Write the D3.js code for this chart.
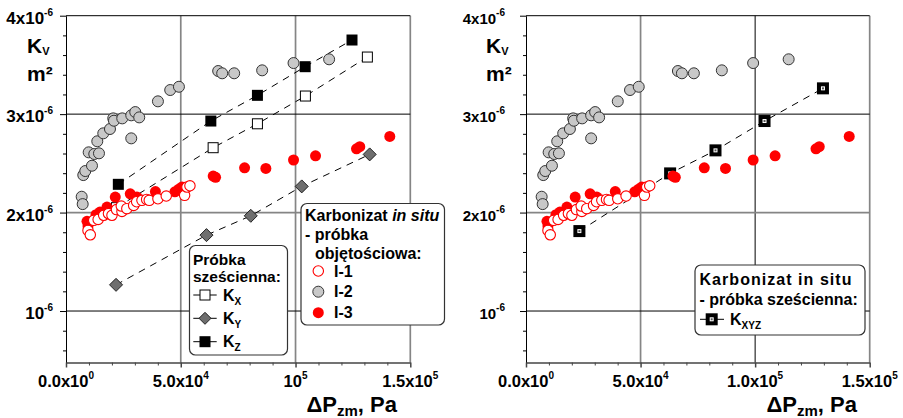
<!DOCTYPE html>
<html><head><meta charset="utf-8">
<script src="https://cdn.jsdelivr.net/npm/d3@7"></script>
<style>
body{margin:0;background:#fff}
svg{display:block}
text{font-family:Arial,"Liberation Sans",sans-serif;font-weight:bold;fill:#000}
</style>
</head><body>
<svg id="c" width="903" height="418"></svg>
<script>
// ---------- data ----------
const xTickValues = [0, 5e4, 1e5, 1.5e5];
const xTickLabelsLeft  = [["0.0x10","0"],["5.0x10","4"],["10","5"],["1.5x10","5"]];
const xTickLabelsRight = [["0.0x10","0"],["5.0x10","4"],["1.0x10","5"],["1.5x10","5"]];
const yTickValues = [1e-6, 2e-6, 3e-6, 4e-6];
const yTickLabels = [["10","-6"],["2x10","-6"],["3x10","-6"],["4x10","-6"]];

// Karbonizat in situ - probka objetosciowa  [dP (Pa), Kv (m2)]
const i1 = [[9580,1.819e-6],[10580,1.774e-6],[12060,1.921e-6],[14000,1.93e-6],[16410,1.972e-6],[18500,1.99e-6],
  [20030,1.972e-6],[22000,2.03e-6],[24380,2.012e-6],[24080,2.066e-6],[26500,2.04e-6],[29470,2.073e-6],[30780,2.110e-6],
  [33090,2.124e-6],[35130,2.134e-6],[36270,2.124e-6],[40050,2.140e-6],[43670,2.168e-6],[51680,2.175e-6],
  [52680,2.259e-6],[54000,2.272e-6]];
const i2 = [[6830,2.161e-6],[7270,2.086e-6],[7530,2.381e-6],[8400,2.422e-6],[9880,2.612e-6],[11320,2.476e-6],
  [12320,2.595e-6],[14370,2.602e-6],[13630,2.724e-6],[16240,2.805e-6],[19160,2.849e-6],[20590,2.957e-6],
  [20900,2.933e-6],[24510,2.957e-6],[28430,2.988e-6],[30170,3.021e-6],[31910,2.967e-6],[28430,2.754e-6],
  [40050,3.130e-6],[45400,3.245e-6],[49200,3.278e-6],[66300,3.438e-6],[68050,3.415e-6],[73270,3.415e-6],
  [85460,3.445e-6],[99130,3.519e-6],[114630,3.557e-6]];
const i3 = [[9140,1.911e-6],[9580,1.863e-6],[13060,1.978e-6],[14800,2.005e-6],[17850,2.056e-6],[21460,2.157e-6],
  [27990,2.191e-6],[30910,2.158e-6],[38960,2.213e-6],[47450,2.211e-6],[49060,2.236e-6],[50500,2.259e-6],
  [64130,2.371e-6],[65170,2.358e-6],[77800,2.455e-6],[87070,2.449e-6],[99130,2.534e-6],[108710,2.577e-6],
  [126560,2.648e-6],[127990,2.669e-6],[141060,2.774e-6]];
// Probka szescienna
const kx = [[22000,2.05e-6],[64100,2.659e-6],[83400,2.902e-6],[104300,3.184e-6],[131300,3.580e-6]];
const ky = [[21800,1.266e-6],[61200,1.771e-6],[80500,1.967e-6],[102700,2.266e-6],[132300,2.591e-6]];
const kz = [[22800,2.287e-6],[63100,2.930e-6],[83400,3.191e-6],[104200,3.482e-6],[124600,3.753e-6]];
const kxyz = [[23300,1.812e-6],[62900,2.398e-6],[82700,2.632e-6],[104100,2.930e-6],[129600,3.262e-6]];

// ---------- drawing ----------
const svg = d3.select("#c");

const panels = [
  {x0:66, x1:410.3, xLabels:xTickLabelsLeft, yLabelGap:13, yFont:17,
   vGrid:{5e4:"g",1e5:"g",1.5e5:"g"}, hGrid:{1e-6:"b",2e-6:"g",3e-6:"b",4e-6:"b"},
   kvX:27, m2X:27, titleX:306.5, cubes:true},
  {x0:526, x1:869.7, xLabels:xTickLabelsRight, yLabelGap:21, yFont:15,
   vGrid:{5e4:"g",1e5:"b",1.5e5:"g"}, hGrid:{1e-6:"b",2e-6:"g",3e-6:"b",4e-6:"b"},
   kvX:486, m2X:486, titleX:766.5, cubes:false}
];

function supText(g, x, y, base, sup, size, anchor, supSize, supDy){
  const t = g.append("text").attr("x", x).attr("y", y).attr("font-size", size)
    .attr("text-anchor", anchor || "start");
  t.append("tspan").text(base);
  t.append("tspan").attr("font-size", supSize || size*0.65).attr("dy", supDy || -size*0.45).text(sup);
  return t;
}
function square(g, x, y, s, fill, stroke, sw){
  g.append("rect").attr("x", x - s/2).attr("y", y - s/2).attr("width", s).attr("height", s)
    .attr("fill", fill).attr("stroke", stroke).attr("stroke-width", sw);
}
function diamond(g, x, y, d){
  g.append("path").attr("d", `M${x},${y-d}L${x+d},${y}L${x},${y+d}L${x-d},${y}Z`)
    .attr("fill", "#6e6e6e").attr("stroke", "#222").attr("stroke-width", 1);
}
function xyzMarker(g, x, y){
  square(g, x, y, 8, "#fff", "#000", 4);
  g.append("rect").attr("x", x-1).attr("y", y-1).attr("width", 2).attr("height", 2).attr("fill", "#555");
}

panels.forEach(p => {
  const g = svg.append("g");
  const x = d3.scaleLinear().domain([0, 1.5e5]).range([p.x0, p.x1]);
  const y = d3.scaleLinear().domain([0.477e-6, 4e-6]).range([362.5, 15.7]);

  // gridlines
  xTickValues.slice(1).forEach(v => {
    const gray = p.vGrid[v] === "g";
    g.append("line").attr("x1", x(v)).attr("x2", x(v)).attr("y1", y(4e-6)).attr("y2", y(0.477e-6))
      .attr("stroke", gray ? "#858585" : "#000").attr("stroke-width", gray ? 1.7 : 1);
  });
  yTickValues.forEach(v => {
    const gray = p.hGrid[v] === "g";
    g.append("line").attr("x1", p.x0).attr("x2", p.x1).attr("y1", y(v)).attr("y2", y(v))
      .attr("stroke", gray ? "#858585" : "#000").attr("stroke-width", gray ? 1.7 : 1);
  });

  // axes
  const minorY = d3.range(6, 40, 2).map(d => d * 1e-7).filter(v => yTickValues.every(t => Math.abs(t - v) > 1e-9));
  const minorX = d3.range(1, 15).map(d => d * 1e4).filter(v => xTickValues.every(t => Math.abs(t - v) > 1));
  g.append("g").attr("transform", `translate(${p.x0},0)`)
    .call(d3.axisLeft(y).tickValues(yTickValues).tickSize(6).tickFormat("").tickSizeOuter(0))
    .call(a => a.selectAll("line,path").attr("stroke", "#000"));
  g.append("g").attr("transform", `translate(${p.x0},0)`)
    .call(d3.axisLeft(y).tickValues(minorY).tickSize(3).tickFormat("").tickSizeOuter(0))
    .call(a => a.select("path").remove()).call(a => a.selectAll("line").attr("stroke", "#000"));
  g.append("g").attr("transform", `translate(0,362.5)`)
    .call(d3.axisBottom(x).tickValues(xTickValues).tickSize(5).tickFormat("").tickSizeOuter(0))
    .call(a => a.selectAll("line,path").attr("stroke", "#444").attr("stroke-width", 1.5));
  g.append("g").attr("transform", `translate(0,362.5)`)
    .call(d3.axisBottom(x).tickValues(minorX).tickSize(3).tickFormat("").tickSizeOuter(0))
    .call(a => a.select("path").remove()).call(a => a.selectAll("line").attr("stroke", "#444"));

  // tick labels
  yTickValues.forEach((v, i) => {
    supText(g, p.x0 - p.yLabelGap, y(v) + 8, yTickLabels[i][0], yTickLabels[i][1], p.yFont, "end", 10, -8);
  });
  xTickValues.forEach((v, i) => {
    supText(g, x(v), 386.5, p.xLabels[i][0], p.xLabels[i][1], 16.5, "middle", 10, -8);
  });

  // axis titles
  const kv = g.append("text").attr("x", p.kvX).attr("y", 53).attr("font-size", 21);
  kv.append("tspan").text("K");
  kv.append("tspan").attr("font-size", 11).attr("dy", 2).text("V");
  g.append("text").attr("x", p.m2X).attr("y", 81).attr("font-size", 21).text("m²");
  const xt = g.append("text").attr("x", p.titleX).attr("y", 411.5).attr("font-size", 22);
  xt.append("tspan").text("ΔP");
  xt.append("tspan").attr("font-size", 15).attr("dy", 4).text("zm");
  xt.append("tspan").attr("dy", -4).text(", Pa");

  const line = d3.line().x(d => x(d[0])).y(d => y(d[1]));
  const dashed = (data) => g.append("path").attr("d", line(data)).attr("fill", "none")
    .attr("stroke", "#000").attr("stroke-width", 1).attr("stroke-dasharray", "7,6");

  if (p.cubes) {
    dashed(kx); dashed(ky); dashed(kz);
    kx.forEach(d => square(g, x(d[0]), y(d[1]), 10, "#fff", "#000", 1));
    ky.forEach(d => diamond(g, x(d[0]), y(d[1]), 6.5));
    kz.forEach(d => square(g, x(d[0]), y(d[1]), 11, "#000", "#000", 0));
  } else {
    dashed(kxyz);
    kxyz.forEach(d => xyzMarker(g, x(d[0]), y(d[1])));
  }

  // volume samples
  i3.forEach(d => g.append("circle").attr("cx", x(d[0])).attr("cy", y(d[1])).attr("r", 5.5).attr("fill", "#ff0000"));
  i1.forEach(d => g.append("circle").attr("cx", x(d[0])).attr("cy", y(d[1])).attr("r", 5.2)
    .attr("fill", "#fff").attr("stroke", "#ff0000").attr("stroke-width", 1.1));
  i2.forEach(d => g.append("circle").attr("cx", x(d[0])).attr("cy", y(d[1])).attr("r", 5.5)
    .attr("fill", "#c8c8c8").attr("stroke", "#333").attr("stroke-width", 1));
});

// ---------- legends ----------
function box(x, y, w, h){
  svg.append("rect").attr("x", x).attr("y", y).attr("width", w).attr("height", h).attr("rx", 6)
    .attr("fill", "#fff").attr("stroke", "#333").attr("stroke-width", 1.2);
}
function ktext(x, y, sub){
  const t = svg.append("text").attr("x", x).attr("y", y).attr("font-size", 16);
  t.append("tspan").text("K");
  t.append("tspan").attr("font-size", 10).attr("dy", 4).text(sub);
}
// left legend 1
box(189.5, 245.5, 98, 109.5);
svg.append("text").attr("x", 193).attr("y", 264.5).attr("font-size", 15.5).text("Próbka");
svg.append("text").attr("x", 193).attr("y", 282).attr("font-size", 15.5).text("sześcienna:");
[[295, "X", "x"], [318.3, "Y", "y"], [341.7, "Z", "z"]].forEach(r => {
  svg.append("line").attr("x1", 193.3).attr("x2", 216.7).attr("y1", r[0]).attr("y2", r[0]).attr("stroke", "#000");
  if (r[2] === "x") square(svg, 205, r[0], 10, "#fff", "#000", 1);
  if (r[2] === "y") diamond(svg, 205, r[0], 6);
  if (r[2] === "z") square(svg, 205, r[0], 11, "#000", "#000", 0);
  ktext(223, r[0] + 5.5, r[1]);
});
// left legend 2
box(301, 203.5, 143.5, 121.5);
const kt = svg.append("text").attr("x", 305).attr("y", 220.5).attr("font-size", 16);
kt.append("tspan").text("Karbonizat ");
kt.append("tspan").attr("font-style", "italic").text("in situ");
svg.append("text").attr("x", 305).attr("y", 240).attr("font-size", 16).text("- próbka");
svg.append("text").attr("x", 315).attr("y", 258.5).attr("font-size", 16).text("objętościowa:");
svg.append("circle").attr("cx", 318.3).attr("cy", 271).attr("r", 5.2).attr("fill", "#fff").attr("stroke", "#ff0000").attr("stroke-width", 1.1);
svg.append("circle").attr("cx", 318.3).attr("cy", 291.7).attr("r", 5.5).attr("fill", "#c8c8c8").attr("stroke", "#333");
svg.append("circle").attr("cx", 318.3).attr("cy", 312.7).attr("r", 5.5).attr("fill", "#ff0000");
[["I-1", 276.5], ["I-2", 297], ["I-3", 318]].forEach(r =>
  svg.append("text").attr("x", 334).attr("y", r[1]).attr("font-size", 16).text(r[0]));
// right legend
box(695, 265, 170, 70);
svg.append("text").attr("x", 699.5).attr("y", 285).attr("font-size", 16)
  .attr("textLength", 152).attr("lengthAdjust", "spacing").text("Karbonizat in situ");
svg.append("text").attr("x", 699.5).attr("y", 304.5).attr("font-size", 16).text("- próbka sześcienna:");
svg.append("line").attr("x1", 700).attr("x2", 724).attr("y1", 319.3).attr("y2", 319.3).attr("stroke", "#000");
xyzMarker(svg, 711.7, 319.3);
ktext(730, 325, "XYZ");
</script>
</body></html>
